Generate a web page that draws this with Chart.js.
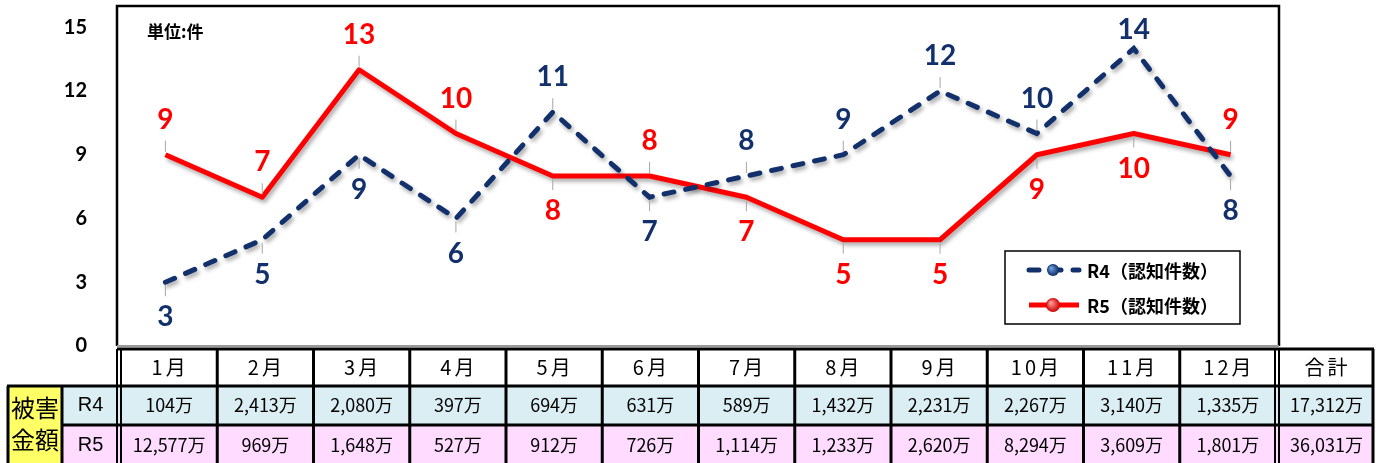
<!DOCTYPE html>
<html>
<head>
<meta charset="utf-8">
<script src="https://cdn.jsdelivr.net/npm/chart.js@4.4.1/dist/chart.umd.min.js"></script>
<style>
    html, body { margin: 0; padding: 0; background: #fff; }
    #wrap { width: 1384px; height: 463px; }
</style>
</head>
<body>
<div id="wrap"><canvas id="countChart" width="1384" height="463"></canvas></div>
<script>
// data
const months = ['1月', '2月', '3月', '4月', '5月', '6月', '7月', '8月', '9月', '10月', '11月', '12月'];
const r4Counts = [3, 5, 9, 6, 11, 7, 8, 9, 12, 10, 14, 8];
const r5Counts = [9, 7, 13, 10, 8, 8, 7, 5, 5, 9, 10, 9];
const seriesNames = ['R4（認知件数）', 'R5（認知件数）'];
const yTicks = [0, 3, 6, 9, 12, 15];

// damage amounts (万円)
const rowNames = ['R4', 'R5'];
const r4Damage = [104, 2413, 2080, 397, 694, 631, 589, 1432, 2231, 2267, 3140, 1335];
const r5Damage = [12577, 969, 1648, 527, 912, 726, 1114, 1233, 2620, 8294, 3609, 1801];
const damageTotals = [17312, 36031];
const totalLabel = '合計';
const damageLabel = ['被害', '金額'];
const unitLabel = '単位:件';

const NAVY = '#12306b';
const RED = '#ff0000';
const JP = "'Noto Sans CJK JP'";

function yen(v) {
    return v.toLocaleString('en-US') + '万';
}

function sphere(ctx, x, y, r, light, dark) {
    const g = ctx.createRadialGradient(x - r * 0.35, y - r * 0.35, r * 0.1, x, y, r);
    g.addColorStop(0, light);
    g.addColorStop(1, dark);
    ctx.fillStyle = g;
    ctx.beginPath();
    ctx.arc(x, y, r, 0, Math.PI * 2);
    ctx.fill();
}

const framePlugin = {
    id: 'frame',
    beforeDatasetsDraw(chart) {
        const { ctx, chartArea: a } = chart;
        ctx.save();
        ctx.strokeStyle = '#000';
        ctx.lineWidth = 2.5;
        ctx.beginPath();
        ctx.moveTo(a.left, a.bottom);
        ctx.lineTo(a.left, a.top);
        ctx.lineTo(a.right, a.top);
        ctx.lineTo(a.right, a.bottom);
        ctx.stroke();
        ctx.strokeStyle = '#9a9a9a';
        ctx.lineWidth = 2;
        ctx.beginPath();
        ctx.moveTo(a.left, a.bottom);
        ctx.lineTo(a.right, a.bottom);
        ctx.stroke();

        ctx.fillStyle = '#000';
        ctx.font = 'bold 17px ' + JP;
        ctx.textBaseline = 'middle';
        ctx.fillText(unitLabel, a.left + 30, a.top + 26);
        ctx.restore();

        // soft shadow under the lines
        ctx.save();
        ctx.shadowColor = 'rgba(0,0,0,0.35)';
        ctx.shadowBlur = 4;
        ctx.shadowOffsetX = 2;
        ctx.shadowOffsetY = 3;
    },
    afterDatasetsDraw(chart) {
        const { ctx } = chart;
        const a = chart.chartArea;
        ctx.restore();

        // value labels, above when the series is the higher one at that month
        const colors = [NAVY, RED];
        chart.data.datasets.forEach((ds, d) => {
            const other = chart.data.datasets[1 - d].data;
            const meta = chart.getDatasetMeta(d);
            meta.data.forEach((pt, i) => {
                const above = ds.data[i] >= other[i];
                const dir = above ? -1 : 1;
                const ty = Math.max(pt.y + dir * 35, a.top + 24);
                const gap = Math.abs(ty - pt.y);
                ctx.save();
                ctx.strokeStyle = '#a6a6a6';
                ctx.lineWidth = 1;
                if (gap > 24) {
                    ctx.beginPath();
                    ctx.moveTo(pt.x, pt.y + dir * 3);
                    ctx.lineTo(pt.x, pt.y + dir * 14);
                    ctx.stroke();
                }
                ctx.fillStyle = colors[d];
                ctx.font = 'bold 28px Lato';
                ctx.textAlign = 'center';
                ctx.textBaseline = 'middle';
                ctx.fillText(String(ds.data[i]), pt.x, ty);
                ctx.restore();
            });
        });

        // legend box
        const bx = a.right - 274, by = a.bottom - 95, bw = 235, bh = 73;
        ctx.save();
        ctx.fillStyle = '#fff';
        ctx.fillRect(bx, by, bw, bh);
        ctx.strokeStyle = '#000';
        ctx.lineWidth = 1.5;
        ctx.strokeRect(bx, by, bw, bh);
        chart.data.datasets.forEach((ds, d) => {
            const ly = by + 19 + d * 35;
            ctx.strokeStyle = ds.borderColor;
            ctx.lineWidth = 5;
            ctx.lineCap = ds.borderCapStyle || 'butt';
            ctx.setLineDash(ds.borderDash || []);
            ctx.beginPath();
            ctx.moveTo(bx + 24, ly);
            ctx.lineTo(bx + 74, ly);
            ctx.stroke();
            ctx.setLineDash([]);
            if (d === 0) sphere(ctx, bx + 48, ly, 6, '#6fa0e0', '#0b2a66');
            else sphere(ctx, bx + 48, ly, 7, '#ff9a9a', '#cc0000');
            ctx.fillStyle = '#000';
            ctx.font = 'bold 18px ' + JP;
            ctx.textBaseline = 'middle';
            ctx.fillText(ds.label, bx + 82, ly + 1);
        });
        ctx.restore();
    },
    afterDraw(chart) {
        const { ctx, chartArea: a } = chart;
        const left = a.left + 4;
        const right = a.right - 3;
        const cw = (right - left) / months.length;
        const totalRight = right + 97;
        const yHead = a.bottom + 3, yR4 = a.bottom + 40, yR5 = a.bottom + 79, yEnd = 470;
        const xYel = 8, xName = 62;

        ctx.save();
        ctx.fillStyle = '#ffff66';
        ctx.fillRect(xYel, yR4, xName - xYel, yEnd - yR4);
        ctx.fillStyle = '#daeef3';
        ctx.fillRect(xName, yR4, totalRight - xName, yR5 - yR4);
        ctx.fillStyle = '#ffdcff';
        ctx.fillRect(xName, yR5, totalRight - xName, yEnd - yR5);

        ctx.strokeStyle = '#000';
        ctx.lineWidth = 3;
        ctx.beginPath();
        ctx.moveTo(left - 4, yHead); ctx.lineTo(totalRight + 1, yHead);
        ctx.moveTo(xYel - 1, yR4); ctx.lineTo(totalRight + 1, yR4);
        ctx.moveTo(xName, yR5); ctx.lineTo(totalRight + 1, yR5);
        ctx.moveTo(xYel, yR4); ctx.lineTo(xYel, yEnd);
        ctx.moveTo(xName, yR4); ctx.lineTo(xName, yEnd);
        for (let k = 1; k < months.length; k++) {
            const x = left + k * cw;
            ctx.moveTo(x, yHead); ctx.lineTo(x, yEnd);
        }
        ctx.moveTo(totalRight, yHead); ctx.lineTo(totalRight, yEnd);
        ctx.stroke();
        ctx.lineWidth = 2;
        ctx.beginPath();
        ctx.moveTo(left - 4, yHead); ctx.lineTo(left - 4, yEnd);
        ctx.moveTo(left, yHead); ctx.lineTo(left, yEnd);
        ctx.moveTo(right - 1, yHead); ctx.lineTo(right - 1, yEnd);
        ctx.moveTo(right + 3, yHead); ctx.lineTo(right + 3, yEnd);
        ctx.stroke();

        ctx.fillStyle = '#000';
        ctx.textAlign = 'center';
        ctx.textBaseline = 'middle';
        const midHead = (yHead + yR4) / 2, midR4 = (yR4 + yR5) / 2, midR5 = (yR5 + 463) / 2 + 1;
        ctx.font = '20px ' + JP;
        ctx.letterSpacing = '3px';
        months.forEach((m, i) => ctx.fillText(m, left + (i + 0.5) * cw + 1, midHead));
        ctx.fillText(totalLabel, (right + totalRight) / 2 + 3, midHead);
        ctx.letterSpacing = '0px';
        ctx.font = '18px ' + JP;
        r4Damage.forEach((v, i) => ctx.fillText(yen(v), left + (i + 0.5) * cw, midR4));
        r5Damage.forEach((v, i) => ctx.fillText(yen(v), left + (i + 0.5) * cw, midR5));
        ctx.fillText(yen(damageTotals[0]), (right + totalRight) / 2 + 2, midR4);
        ctx.fillText(yen(damageTotals[1]), (right + totalRight) / 2 + 2, midR5);
        ctx.font = '20px "Liberation Sans"';
        ctx.fillText(rowNames[0], (xName + left) / 2 - 1, midR4);
        ctx.fillText(rowNames[1], (xName + left) / 2 - 1, midR5);
        ctx.font = '24px ' + JP;
        ctx.fillText(damageLabel[0], (xYel + xName) / 2, yR4 + 22);
        ctx.fillText(damageLabel[1], (xYel + xName) / 2, yR4 + 54);
        ctx.restore();
    }
};

const countChart = new Chart(document.getElementById('countChart'), {
    type: 'line',
    data: {
        labels: months,
        datasets: [
            {
                label: seriesNames[0],
                data: r4Counts,
                borderColor: NAVY,
                backgroundColor: NAVY,
                borderWidth: 5,
                borderDash: [10, 12],
                borderCapStyle: 'round',
                pointRadius: 0,
                tension: 0
            },
            {
                label: seriesNames[1],
                data: r5Counts,
                borderColor: RED,
                backgroundColor: RED,
                borderWidth: 5,
                borderJoinStyle: 'round',
                pointRadius: 0,
                tension: 0
            }
        ]
    },
    options: {
        responsive: false,
        animation: false,
        layout: { padding: { top: 6, right: 105, bottom: 117, left: 0 } },
        plugins: {
            legend: { display: false },
            tooltip: { enabled: false }
        },
        scales: {
            x: { display: false, offset: true },
            y: {
                min: 0,
                max: 16,
                afterFit(scale) {
                    scale.width = 117;
                    scale.paddingTop = 0;
                    scale.paddingBottom = 0;
                },
                afterBuildTicks(scale) { scale.ticks = yTicks.map(v => ({ value: v })); },
                grid: { display: false },
                border: { display: false },
                ticks: {
                    padding: 22,
                    color: '#000',
                    font: { family: 'Lato', size: 20, weight: 'bold' }
                }
            }
        }
    },
    plugins: [framePlugin]
});
</script>
</body>
</html>
